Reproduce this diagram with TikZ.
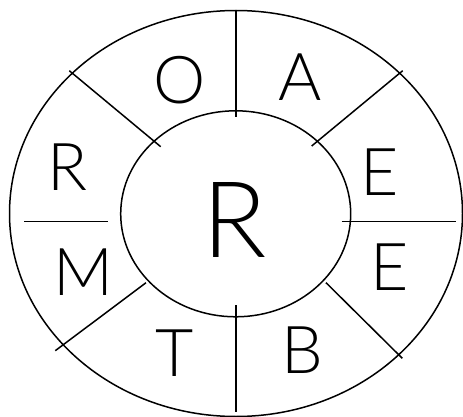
\documentclass[tikz,border=0pt]{standalone}
\usepackage{fontspec}
\setmainfont{Lato Light}
\usetikzlibrary{shapes.geometric}
\tikzstyle{ring}=[ellipse,draw=black,line width=1.5pt,inner sep=0pt]
\tikzstyle{letter}=[inner sep=0pt,font=\fontsize{66}{66}\selectfont]
\tikzstyle{bigletter}=[inner sep=0pt,font=\fontsize{106}{106}\selectfont]
\tikzstyle{spoke}=[line width=1.5pt]

\begin{document}
\begin{tikzpicture}[x=1pt,y=-1pt]
\useasboundingbox (0,0) rectangle (463,417);
\node[ring,minimum width=453pt,minimum height=406pt] (outer) at (236,213.5) {};
\node[ring,minimum width=230pt,minimum height=206pt] (inner) at (235.7,213.8) {};
\node[bigletter] (c) at (235,220) {R};
\node[letter] (o) at (180,80) {O};
\node[letter] (a) at (300,77) {A};
\node[letter] (r) at (68,167) {R};
\node[letter] (e1) at (380,172) {E};
\node[letter] (m) at (83,272) {M};
\node[letter] (e2) at (390,267) {E};
\node[letter] (t) at (175,353) {T};
\node[letter] (b) at (302,350) {B};
\coordinate (n1) at (236,10.7);\coordinate (n2) at (236,116.7);
\coordinate (s1) at (236,305);\coordinate (s2) at (236,411.7);
\coordinate (w1) at (24,221.7);\coordinate (w2) at (107.7,221.7);
\coordinate (e3) at (341.7,221.7);\coordinate (e4) at (455.7,221.7);
\coordinate (nw1) at (69.3,70.7);\coordinate (nw2) at (160.7,146.7);
\coordinate (ne1) at (402.7,70.7);\coordinate (ne2) at (311.7,146);
\coordinate (sw1) at (146,282.7);\coordinate (sw2) at (55.3,350.7);
\coordinate (se1) at (326,282.7);\coordinate (se2) at (402.3,358.3);
\draw[spoke](n1)--(n2);\draw[spoke](s1)--(s2);
\draw[spoke](w1)--(w2);\draw[spoke](e3)--(e4);
\draw[spoke](nw1)--(nw2);\draw[spoke](ne1)--(ne2);
\draw[spoke](sw1)--(sw2);\draw[spoke](se1)--(se2);
\end{tikzpicture}
\end{document}
